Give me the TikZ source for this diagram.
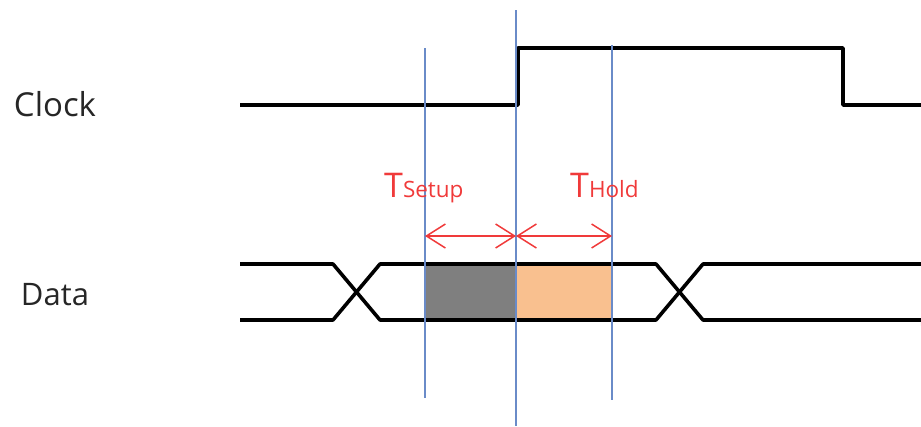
\documentclass[tikz,border=0pt]{standalone}
\usepackage{fontspec}
\setmainfont{Open Sans}
\usetikzlibrary{arrows.meta}
\definecolor{guide}{HTML}{6A8BC8}
\definecolor{tred}{HTML}{F03A3A}
\definecolor{holdc}{HTML}{F9C08F}
\definecolor{setupc}{HTML}{7F7F7F}
\tikzset{
  sig/.style={line width=3.6pt, line join=round, black},
  guideline/.style={line width=1.1pt, guide},
  barb/.tip={Straight Barb[length=19pt,width=24pt,line width=1.5pt]},
  tarrow/.style={line width=1.4pt, tred, barb-barb},
  lbl/.style={text=black!85, inner sep=0pt},
  tlbl/.style={text=tred, inner sep=0pt, anchor=base west}
}
\begin{document}
\begin{tikzpicture}[x=1pt,y=-1pt]
\useasboundingbox (0,0) rectangle (921,426);
% coordinates
\coordinate (a) at (425,236);
\coordinate (b) at (516,236);
\coordinate (c) at (612,236);
% shaded windows
\fill[setupc] (425,264) rectangle (516,320);
\fill[holdc] (516,264) rectangle (612,320);
% clock
\draw[sig] (240,105) -- (518,105) -- (518,48) -- (843,48) -- (843,105) -- (921,105);
% data
\draw[sig] (240,264) -- (333,264) -- (380,320) -- (656,320) -- (703,264) -- (921,264);
\draw[sig] (240,320) -- (333,320) -- (380,264) -- (656,264) -- (703,320) -- (921,320);
% guide lines
\draw[guideline] (425,48) -- (425,398);
\draw[guideline] (516,10) -- (516,426);
\draw[guideline] (612,45) -- (612,400);
% arrows
\draw[tarrow] (a) -- (b);
\draw[tarrow] (b) -- (c);
% labels
\node[lbl, font=\fontsize{33}{36}\selectfont] (clk) at (55,104) {Clock};
\node[lbl, font=\fontsize{31}{34}\selectfont] (dat) at (55,295) {Data};
\node[tlbl] (ts) at (384,197) {\fontsize{34}{36}\selectfont T\fontsize{22.5}{24}\selectfont Setup};
\node[tlbl] (th) at (570,197) {\fontsize{34}{36}\selectfont T\fontsize{22.5}{24}\selectfont Hold};
\end{tikzpicture}
\end{document}
